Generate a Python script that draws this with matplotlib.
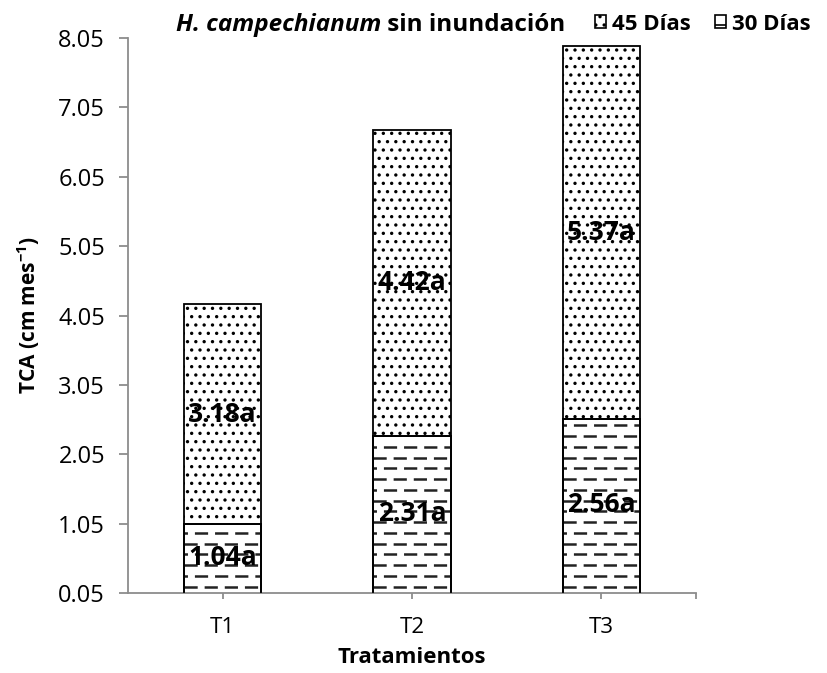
import matplotlib
matplotlib.use('Agg')
import matplotlib.pyplot as plt
from matplotlib.patches import Patch
import numpy as np

plt.rcParams['font.family'] = ['Open Sans', 'DejaVu Sans']
plt.rcParams['mathtext.fontset'] = 'custom'
plt.rcParams['mathtext.rm'] = 'Open Sans'
plt.rcParams['mathtext.bf'] = 'Open Sans:bold'
plt.rcParams['lines.scale_dashes'] = False
plt.rcParams['hatch.linewidth'] = 1.2
plt.rcParams['hatch.color'] = '#222222'

tratamientos = ['T1', 'T2', 'T3']
dias30 = [1.04, 2.31, 2.56]
dias45 = [3.18, 4.42, 5.37]
letras30 = ['a', 'a', 'a']
letras45 = ['a', 'a', 'a']

fig = plt.figure(figsize=(8.28, 6.73), dpi=100)
ax = fig.add_axes([0.1546, 0.1189, 0.686, 0.8246])

x = np.arange(len(tratamientos))
w = 0.41
ymin, ymax = 0.05, 8.05

# barras de 30 dias (rayas) y 45 dias (puntos) apiladas
b30 = ax.bar(x, dias30, w, color='white', edgecolor='black', linewidth=1.3, zorder=2)
b45 = ax.bar(x, dias45, w, bottom=dias30, color='white', edgecolor='black',
             linewidth=1.3, hatch='..', zorder=2)

# rayado de guiones dentro de las barras de 30 dias
paso = 0.155
for i, r in enumerate(b30):
    yy = np.arange(ymin + 0.09, dias30[i] - 0.03, paso)
    for k, y in enumerate(yy):
        off = 0 if k % 2 == 0 else 7
        ln, = ax.plot([x[i] - w / 2, x[i] + w / 2], [y, y], color='#222222',
                      lw=1.8, ls=(off, (9.5, 5.0)), solid_capstyle='butt',
                      dash_capstyle='butt', zorder=3)
        ln.set_clip_path(r)
# borde encima del rayado
ax.bar(x, dias30, w, color='none', edgecolor='black', linewidth=1.3, zorder=4)

# etiquetas de valores
for i in range(len(x)):
    y1 = (max(ymin, 0) + dias30[i]) / 2 + 0.02
    ax.text(x[i], y1, f'{dias30[i]:.2f}{letras30[i]}', ha='center', va='center',
            fontsize=19, fontweight='bold', zorder=5)
    y2 = dias30[i] + dias45[i] / 2
    ax.text(x[i], y2, f'{dias45[i]:.2f}{letras45[i]}', ha='center', va='center',
            fontsize=19, fontweight='bold', zorder=5)

ax.set_ylim(ymin, ymax)
ax.set_yticks(np.arange(ymin, ymax + 0.01, 1.0))
ax.set_yticklabels([f'{v:.2f}' for v in np.arange(ymin, ymax + 0.01, 1.0)])
ax.set_xlim(-0.5, 2.5)
ax.set_xticks(list(x) + [2.5])
ax.set_xticklabels(tratamientos + [''])

for s in ['top', 'right']:
    ax.spines[s].set_visible(False)
for s in ['left', 'bottom']:
    ax.spines[s].set_color('#8c8c8c')
    ax.spines[s].set_linewidth(1.3)
ax.tick_params(axis='y', colors='#8c8c8c', labelcolor='black', labelsize=17,
               length=6.5, width=1.3, pad=10)
ax.tick_params(axis='x', colors='#8c8c8c', labelcolor='black', labelsize=16,
               length=4.5, width=1.3, pad=13)

ax.set_ylabel(r'TCA (cm mes$^{\mathbf{-1}}$)', fontsize=15, fontweight='bold', labelpad=12)
ax.set_xlabel('Tratamientos', fontsize=16, fontweight='bold', labelpad=6)

# titulo con nombre en cursiva
t1 = fig.text(176 / 828, 1 - 31 / 673, 'H. campechianum', fontsize=17.5,
              fontweight='bold', style='italic', va='baseline')
fig.canvas.draw()
bb = t1.get_window_extent()
fig.text(bb.x1 / fig.bbox.width, 1 - 31 / 673, ' sin inundación', fontsize=17.5,
         fontweight='bold', va='baseline')

handles = [Patch(facecolor='white', edgecolor='black', hatch='..', linewidth=1.2),
           Patch(facecolor='white', edgecolor='black', hatch='-', linewidth=1.2)]
fig.legend(handles, ['45 Días', '30 Días'], loc='center left',
           bbox_to_anchor=(584 / 828, 1 - 24 / 673), ncol=2, frameon=False,
           prop={'size': 16, 'weight': 'bold'}, handlelength=0.5, handleheight=0.5,
           handletextpad=0.25, columnspacing=1.1, borderpad=0)

fig.savefig('out.png', dpi=100)
